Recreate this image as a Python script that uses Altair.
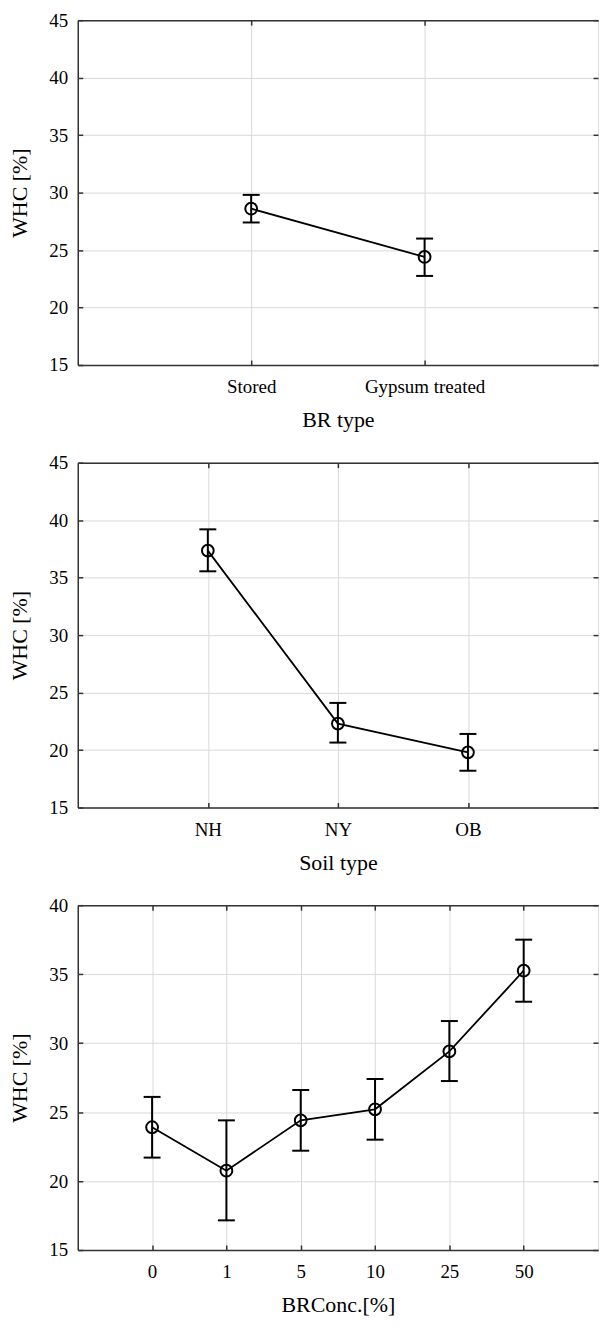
import json
import altair as alt
import pandas as pd

# ---- data ----
br_types = ["Stored", "Gypsum treated"]
br_mean = [28.6, 24.4]
br_upper = [29.8, 26.0]
br_lower = [27.4, 22.75]

soil_types = ["NH", "NY", "OB"]
soil_mean = [37.35, 22.3, 19.8]
soil_upper = [39.2, 24.1, 21.4]
soil_lower = [35.55, 20.65, 18.2]

conc_levels = ["0", "1", "5", "10", "25", "50"]
conc_mean = [23.9, 20.75, 24.4, 25.2, 29.4, 35.25]
conc_upper = [26.1, 24.4, 26.6, 27.4, 31.6, 37.5]
conc_lower = [21.7, 17.15, 22.2, 23.0, 27.25, 33.0]

FONT = "Liberation Serif"
W = 522
H = 346
INK = "#000000"
FRAME = "#333333"
GRID = "#d9d9d9"


def panel(cats, means, uppers, lowers, xtitle, ymin, ymax):
    n = len(cats)
    df = pd.DataFrame({
        "pos": list(range(1, n + 1)),
        "cat": cats,
        "mean": means,
        "upper": uppers,
        "lower": lowers,
    })
    xvals = list(range(1, n + 1))
    yvals = list(range(ymin, ymax + 1, 5))
    label_expr = json.dumps([""] + cats) + "[datum.value]"
    xs = alt.Scale(domain=[0, n + 1], nice=False, zero=False)
    ys = alt.Scale(domain=[ymin, ymax], nice=False, zero=False)

    x_main = alt.Axis(orient="bottom", values=xvals, labelExpr=label_expr, title=xtitle,
                      grid=True, gridColor=GRID, gridWidth=1, ticks=False, tickSize=0,
                      domain=True, domainColor=FRAME, domainWidth=1.5,
                      labelPadding=13, titlePadding=13, labelFontSize=19, titleFontSize=22,
                      labelFont=FONT, titleFont=FONT, labelColor=INK, titleColor=INK,
                      titleFontWeight="normal", labelOverlap=False, labelFlush=False)
    x_top = alt.Axis(orient="bottom", offset=-H, values=xvals, title=None, labels=False,
                     grid=False, domain=True, domainColor=FRAME, domainWidth=1.5,
                     ticks=True, tickSize=5, tickColor=FRAME, tickWidth=1.5)
    x_bot = alt.Axis(orient="top", offset=-H, values=xvals, title=None, labels=False,
                     grid=False, domain=False, ticks=True, tickSize=5, tickColor=FRAME,
                     tickWidth=1.5)
    y_main = alt.Axis(orient="left", values=yvals, title="WHC [%]",
                      grid=True, gridColor=GRID, gridWidth=1, ticks=False, tickSize=0,
                      domain=True, domainColor=FRAME, domainWidth=1.5,
                      labelPadding=10, titlePadding=17, labelFontSize=19, titleFontSize=22,
                      labelFont=FONT, titleFont=FONT, labelColor=INK, titleColor=INK,
                      titleFontWeight="normal", labelOverlap=False, labelFlush=False)
    y_in_left = alt.Axis(orient="right", offset=-W, values=yvals, title=None, labels=False,
                         grid=False, domain=False, ticks=True, tickSize=5, tickColor=FRAME,
                         tickWidth=1.5)
    y_in_right = alt.Axis(orient="left", offset=-W, values=yvals, title=None, labels=False,
                          grid=False, domain=False, ticks=True, tickSize=5, tickColor=FRAME,
                          tickWidth=1.5)

    base = alt.Chart(df)
    bars = base.mark_rule(color=INK, strokeWidth=2).encode(
        x=alt.X("pos:Q", scale=xs, axis=x_main),
        y=alt.Y("lower:Q", scale=ys, axis=y_main),
        y2="upper:Q",
    )
    cap_hi = base.mark_tick(orient="horizontal", size=17, thickness=2, color=INK, opacity=1).encode(
        x=alt.X("pos:Q", scale=xs, axis=x_top),
        y=alt.Y("upper:Q", scale=ys, axis=y_in_left),
    )
    cap_lo = base.mark_tick(orient="horizontal", size=17, thickness=2, color=INK, opacity=1).encode(
        x=alt.X("pos:Q", scale=xs, axis=x_bot),
        y=alt.Y("lower:Q", scale=ys, axis=y_in_right),
    )
    line = base.mark_line(color=INK, strokeWidth=1.8).encode(
        x=alt.X("pos:Q", scale=xs, axis=None),
        y=alt.Y("mean:Q", scale=ys, axis=None),
    )
    pts = base.mark_point(shape="circle", size=140, filled=False, color=INK,
                          strokeWidth=2, opacity=1).encode(
        x=alt.X("pos:Q", scale=xs, axis=None),
        y=alt.Y("mean:Q", scale=ys, axis=None),
    )
    return (alt.layer(bars, cap_hi, cap_lo, line, pts)
            .resolve_axis(x="independent", y="independent")
            .properties(width=W, height=H))


p1 = panel(br_types, br_mean, br_upper, br_lower, "BR type", 15, 45)
p2 = panel(soil_types, soil_mean, soil_upper, soil_lower, "Soil type", 15, 45)
p3 = panel(conc_levels, conc_mean, conc_upper, conc_lower, "BRConc.[%]", 15, 40)

chart = (alt.vconcat(p1, p2, p3, spacing=21)
         .properties(padding={"left": 0, "top": 0, "right": 0, "bottom": 0})
         .configure_view(stroke=None)
         .configure(font=FONT))

chart.save("out.html", embed_options={"renderer": "svg", "actions": False})
